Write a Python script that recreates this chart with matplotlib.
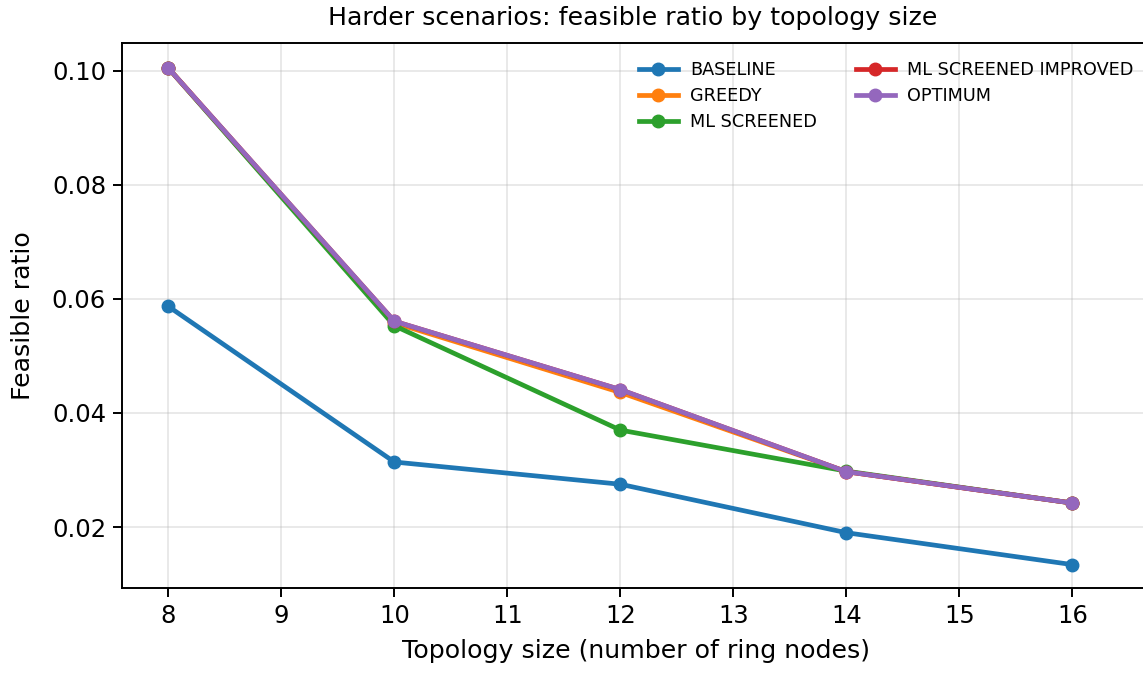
import matplotlib
matplotlib.use("Agg")
import matplotlib.pyplot as plt

sizes = [8, 10, 12, 14, 16]
baseline = [0.0587, 0.0314, 0.0275, 0.0190, 0.0134]
greedy = [0.1005, 0.0558, 0.0436, 0.0297, 0.0242]
ml_screened = [0.1005, 0.0553, 0.0370, 0.0298, 0.0242]
ml_improved = [0.1005, 0.0561, 0.0441, 0.0297, 0.0242]
optimum = [0.1005, 0.0561, 0.0441, 0.0297, 0.0242]

series = [
    ("BASELINE", baseline, "#1f77b4"),
    ("GREEDY", greedy, "#ff7f0e"),
    ("ML SCREENED", ml_screened, "#2ca02c"),
    ("ML SCREENED IMPROVED", ml_improved, "#d62728"),
    ("OPTIMUM", optimum, "#9467bd"),
]

fig = plt.figure(figsize=(11.43, 6.73), dpi=100)
ax = fig.add_axes([122/1143, 1 - 588/673, 9.1*113/1143, (588-43)/673])

for name, vals, col in series:
    ax.plot(sizes, vals, marker="o", color=col, lw=3.4, ms=9, label=name)

ax.set_xlim(7.59, 16.69)
ax.set_ylim(0.0093, 0.1049)
ax.set_xticks(range(8, 17))
ax.set_yticks([0.02, 0.04, 0.06, 0.08, 0.10])
ax.set_yticklabels(["0.02", "0.04", "0.06", "0.08", "0.10"])
ax.tick_params(labelsize=17.5, length=6.5, width=1.4, pad=5)
for s in ax.spines.values():
    s.set_linewidth(1.4)
ax.grid(True, alpha=0.3, lw=1.3)

ax.set_xlabel("Topology size (number of ring nodes)", fontsize=18.2, labelpad=8)
ax.set_ylabel("Feasible ratio", fontsize=18.2, labelpad=12)
fig.text(633/1143, 1 - 18/673, "Harder scenarios: feasible ratio by topology size",
         ha="center", va="center", fontsize=18.2)

ax.legend(loc="upper left", bbox_to_anchor=(623/1143, 1 - 45/673),
          bbox_transform=fig.transFigure, ncol=2, frameon=False,
          fontsize=12.7, handlelength=2.2, handletextpad=0.7,
          columnspacing=2.2, labelspacing=0.45)

fig.savefig("out.png", dpi=100)
